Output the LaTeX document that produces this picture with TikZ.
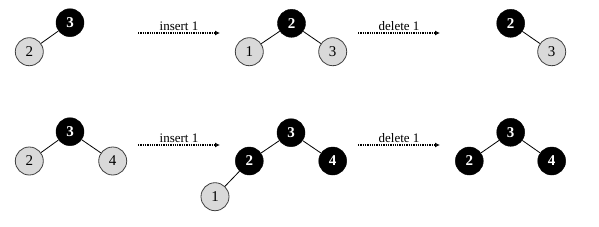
\documentclass[tikz,border=0pt]{standalone}
\usepackage{fontspec}
\setmainfont{Liberation Serif}
\usetikzlibrary{arrows.meta}
\tikzset{
  bn/.style={circle, fill=black, draw=black, minimum size=28pt, inner sep=0pt, text=white, font=\fontsize{15}{15}\selectfont\bfseries},
  gn/.style={circle, fill=gray!30, draw=black!75, line width=0.8pt, minimum size=28pt, inner sep=0pt, font=\fontsize{15}{15}\selectfont},
  edge/.style={line width=0.8pt},
  op/.style={densely dotted, line width=1.3pt, -{Latex[open,length=5pt,width=5pt]}},
  lab/.style={font=\fontsize{13}{13}\selectfont, above, inner sep=1.5pt}
}
\begin{document}
\begin{tikzpicture}[x=1pt,y=-1pt]
\useasboundingbox (0,0) rectangle (599,226);
% Row 1
\node[bn] (a3) at (70,22.7) {3};
\node[gn] (a2) at (29.3,51.7) {2};
\draw[edge] (a3) -- (a2);
\coordinate (p1s) at (138,33); \coordinate (p1e) at (220,33);
\draw[op] (p1s) -- node[lab] {insert 1} (p1e);
\node[bn] (b2) at (291.5,23.3) {2};
\node[gn] (b1) at (249.3,51.7) {1};
\node[gn] (b3) at (332.7,51.7) {3};
\draw[edge] (b2) -- (b1);
\draw[edge] (b2) -- (b3);
\coordinate (p2s) at (358,33); \coordinate (p2e) at (440,33);
\draw[op] (p2s) -- node[lab] {delete 1} (p2e);
\node[bn] (c2) at (510.7,23.3) {2};
\node[gn] (c3) at (551.7,51.7) {3};
\draw[edge] (c2) -- (c3);
% Row 2
\node[bn] (d3) at (70,131.7) {3};
\node[gn] (d2) at (29.3,161) {2};
\node[gn] (d4) at (112.7,161) {4};
\draw[edge] (d3) -- (d2);
\draw[edge] (d3) -- (d4);
\coordinate (p3s) at (138,145); \coordinate (p3e) at (220,145);
\draw[op] (p3s) -- node[lab] {insert 1} (p3e);
\node[bn] (e3) at (291,132.7) {3};
\node[bn] (e2) at (249.3,161) {2};
\node[bn] (e4) at (332.7,161) {4};
\node[gn] (e1) at (215,196.7) {1};
\draw[edge] (e3) -- (e2);
\draw[edge] (e3) -- (e4);
\draw[edge] (e2) -- (e1);
\coordinate (p4s) at (358,145); \coordinate (p4e) at (440,145);
\draw[op] (p4s) -- node[lab] {delete 1} (p4e);
\node[bn] (f3) at (510.7,132.3) {3};
\node[bn] (f2) at (469.3,161) {2};
\node[bn] (f4) at (551.7,161) {4};
\draw[edge] (f3) -- (f2);
\draw[edge] (f3) -- (f4);
\end{tikzpicture}
\end{document}
